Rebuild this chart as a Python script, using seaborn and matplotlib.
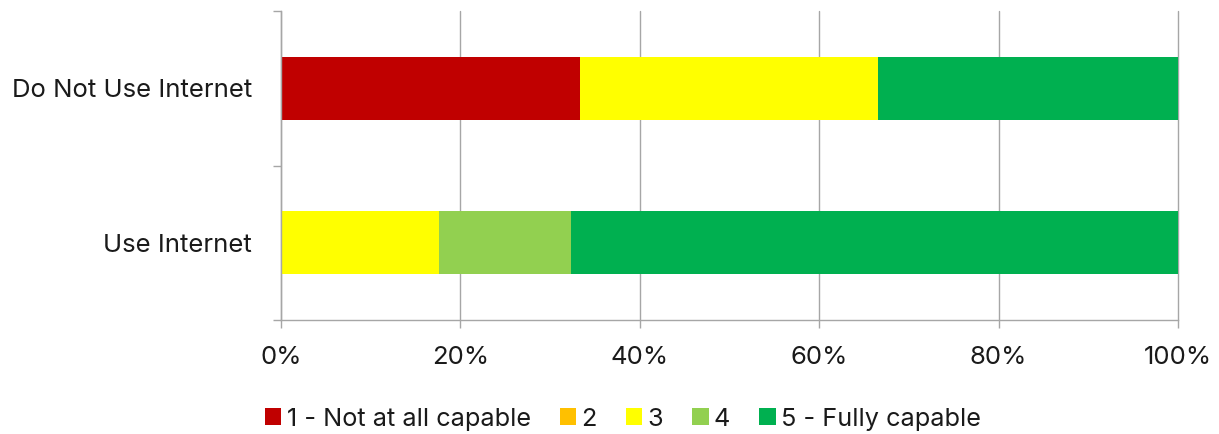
import matplotlib
matplotlib.use("Agg")
import matplotlib.pyplot as plt
from matplotlib.patches import Patch
from matplotlib.ticker import FixedLocator, PercentFormatter
import numpy as np
import pandas as pd
import seaborn as sns

# Share of respondents (%) by self-rated capability
groups = ["Do Not Use Internet", "Use Internet"]
levels = ["1 - Not at all capable", "2", "3", "4", "5 - Fully capable"]
level_1 = [33.3, 0.0]
level_2 = [0.0, 0.0]
level_3 = [33.3, 17.6]
level_4 = [0.0, 14.7]
level_5 = [33.4, 67.7]
colors = ["#C00000", "#FFC000", "#FFFF00", "#92D050", "#00B050"]

sns.set_theme(style="white")
plt.rcParams["font.family"] = ["Inter", "DejaVu Sans"]

series = np.array([level_1, level_2, level_3, level_4, level_5])
cumulative = np.cumsum(series, axis=0)

fig = plt.figure(figsize=(12.19, 4.34), dpi=100)
ax = fig.add_axes([281 / 1219, 114 / 434, 897 / 1219, 309 / 434])

# Stacked bars: draw running totals from the widest down so each segment shows
for i in range(len(levels) - 1, -1, -1):
    df = pd.DataFrame({"group": groups, "value": cumulative[i]})
    sns.barplot(data=df, x="value", y="group", orient="h", color=colors[i],
                width=0.41, saturation=1, linewidth=0, ax=ax, order=groups)

ax.set_xlim(0, 100)
ax.set_ylim(1.5, -0.5)
ax.xaxis.set_major_locator(FixedLocator([0, 20, 40, 60, 80, 100]))
ax.xaxis.set_major_formatter(PercentFormatter(decimals=0))
ax.set_xlabel("")
ax.set_ylabel("")

grid_color = "#A6A6A6"
text_color = "#1a1a1a"
fs = 18.5
ax.grid(axis="x", color=grid_color, linewidth=1.0)
for gl in ax.get_xgridlines():
    gl.set_clip_on(False)
ax.set_axisbelow(True)
for side in ("top", "right"):
    ax.spines[side].set_visible(False)
for side in ("left", "bottom"):
    ax.spines[side].set_color(grid_color)
    ax.spines[side].set_linewidth(1.0)

ax.tick_params(axis="x", length=6, width=1, color=grid_color, pad=13,
               labelsize=fs, labelcolor=text_color, bottom=True)
ax.tick_params(axis="y", which="major", length=0, pad=21,
               labelsize=fs, labelcolor=text_color)
ax.yaxis.set_minor_locator(FixedLocator([-0.5, 0.5, 1.5]))
ax.tick_params(axis="y", which="minor", length=6, width=1, color=grid_color, left=True)

handles = [Patch(facecolor=c, edgecolor="none") for c in colors]
fig.legend(handles, levels, loc="lower center", bbox_to_anchor=(0.511, -0.045),
           ncol=5, frameon=False, fontsize=18.2, handlelength=0.66, handleheight=0.66,
           handletextpad=0.2, columnspacing=1.15, labelcolor=text_color)

fig.savefig("out.png", dpi=100)
